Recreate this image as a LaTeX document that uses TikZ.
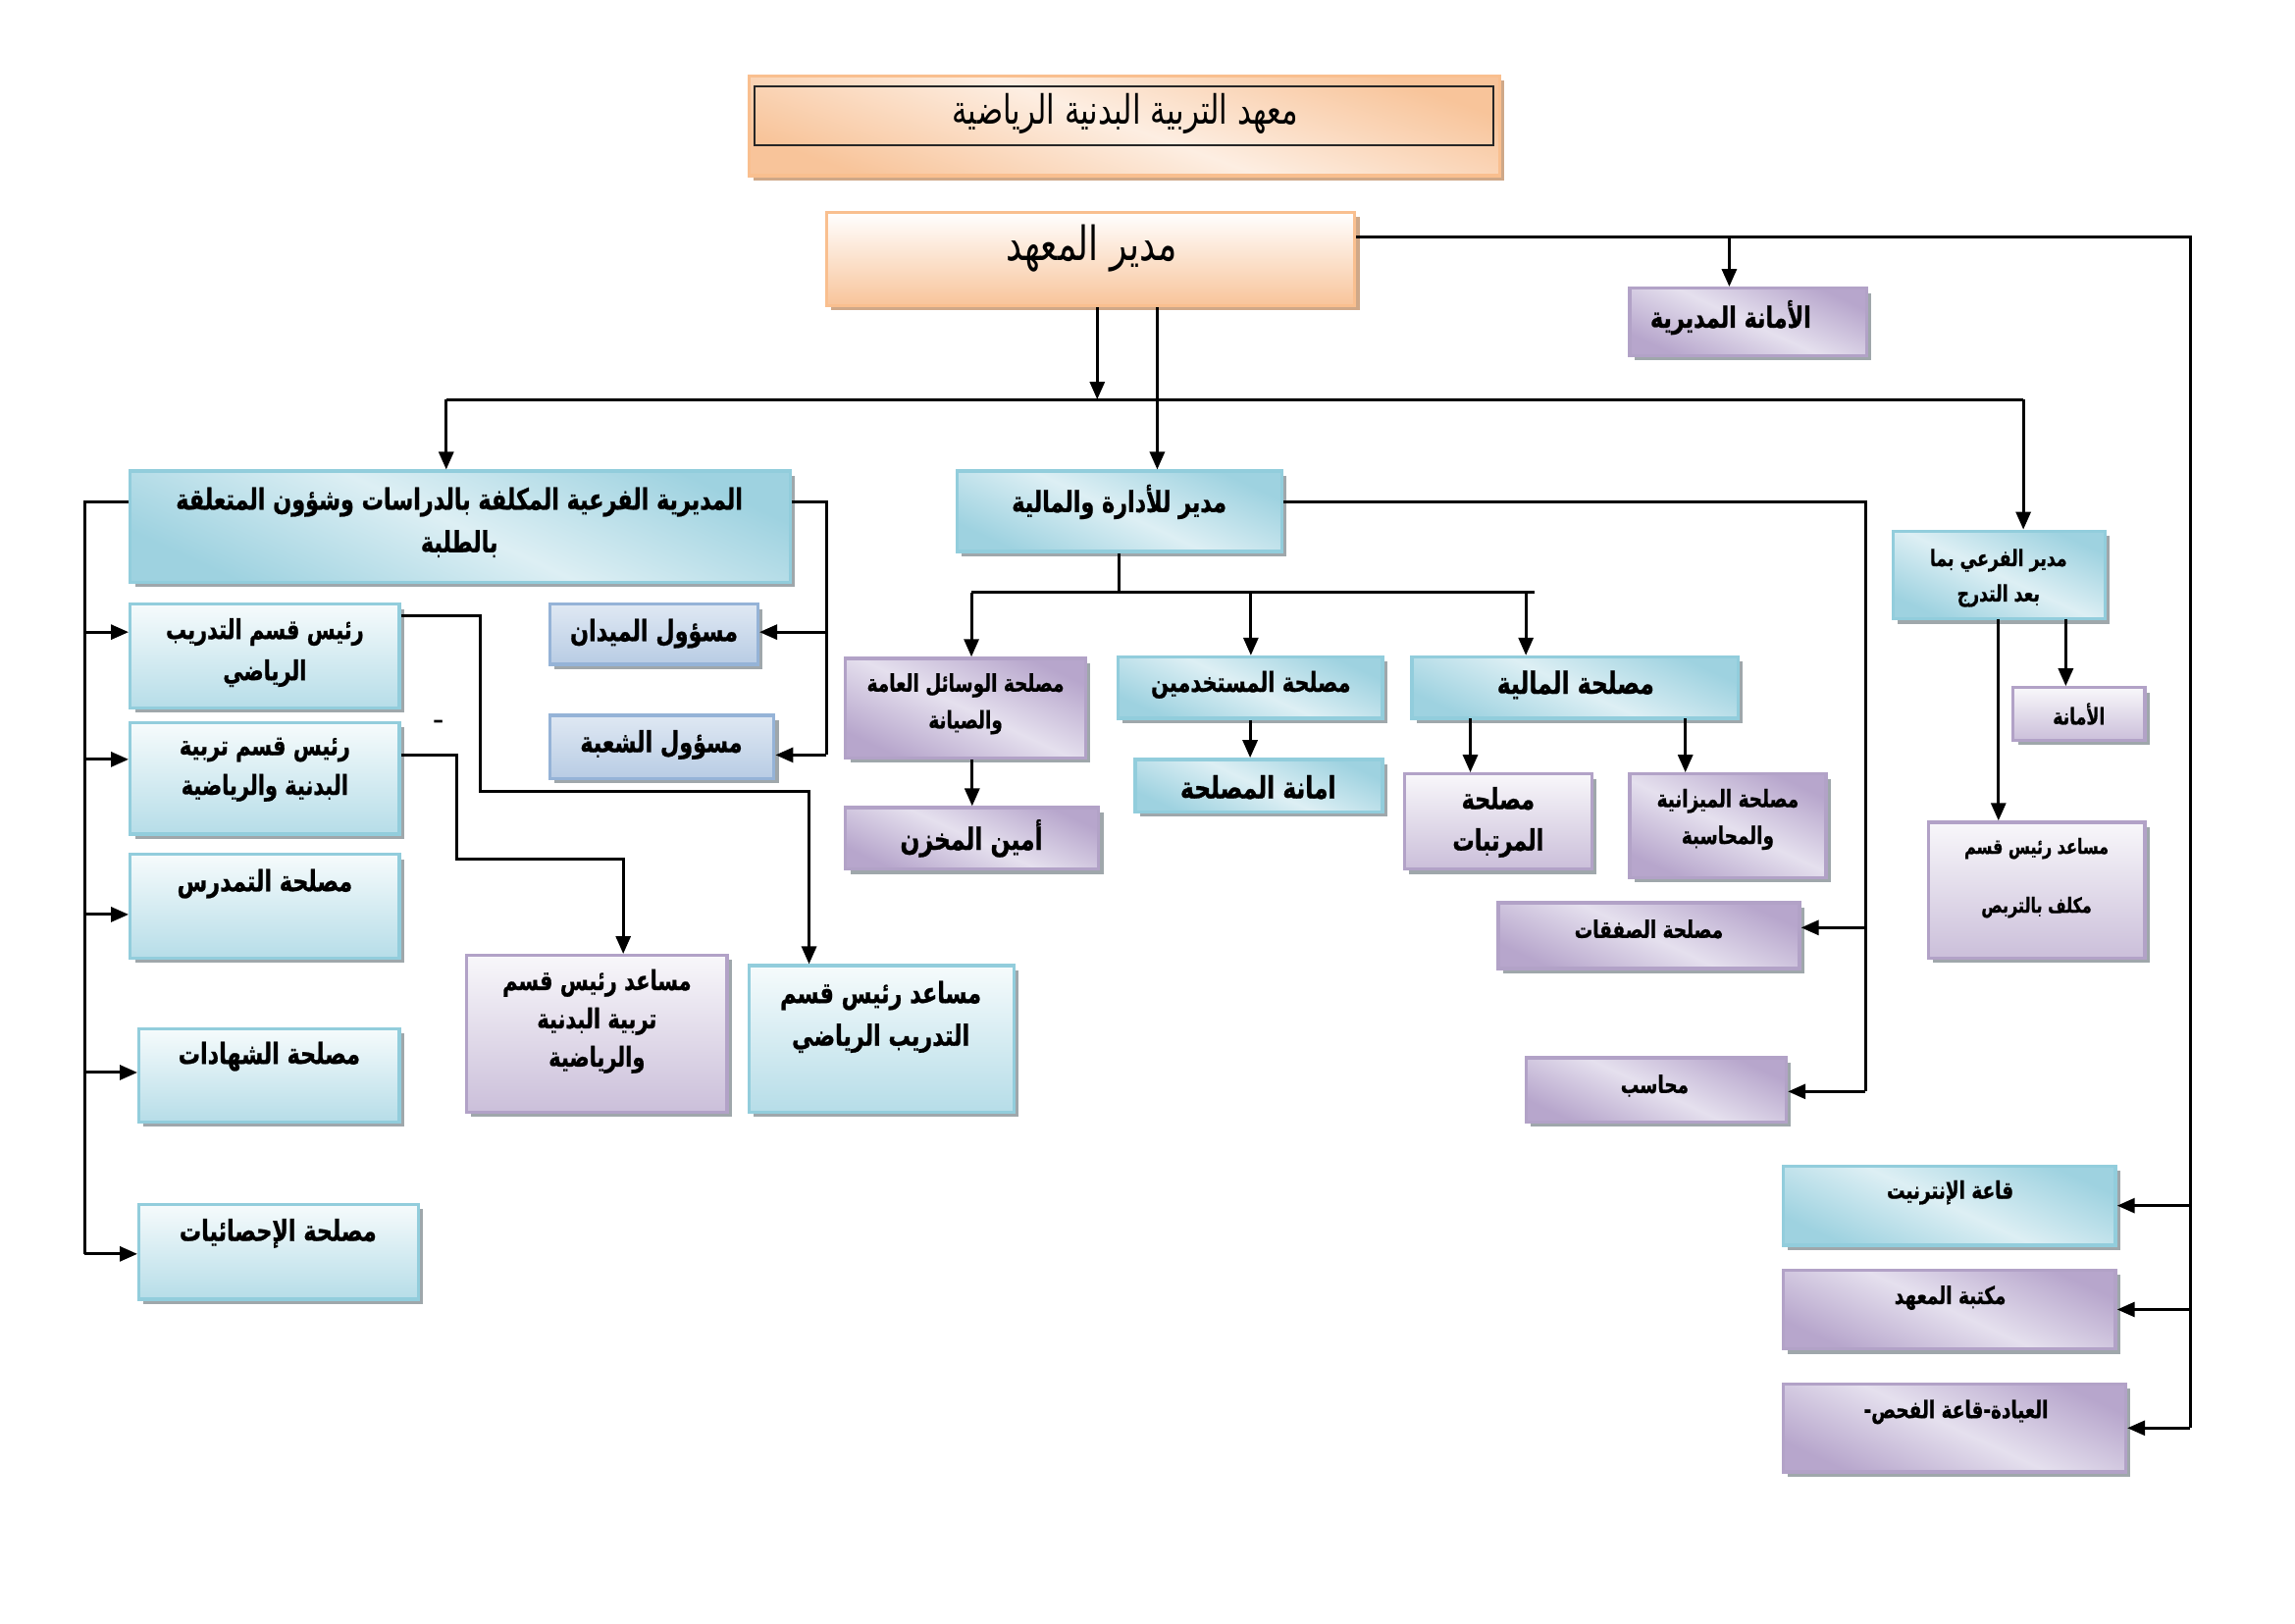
\documentclass[tikz,border=0pt]{standalone}
\usepackage{fontspec}
\usetikzlibrary{arrows.meta,shadows,fit}
\TeXXeTstate=1
\newfontfamily\arabicfont[Script=Arabic, FakeStretch=0.75, BoldFeatures={FakeBold=0.8}]{DejaVu Sans}
\newcommand\ar[1]{\beginR #1\endR}
\definecolor{orBd}{HTML}{F9BF8F}
\definecolor{orD}{HTML}{F8C49A}
\definecolor{orL}{HTML}{FDEEE2}
\definecolor{orShd}{HTML}{CFA888}
\definecolor{blBd}{HTML}{92CDDC}
\definecolor{blD}{HTML}{9ED2E0}
\definecolor{blL}{HTML}{DDEFF4}
\definecolor{blTop}{HTML}{F6FBFC}
\definecolor{blBot}{HTML}{B6DDE8}
\definecolor{puBd}{HTML}{B2A2C7}
\definecolor{puD}{HTML}{B7A6CC}
\definecolor{puL}{HTML}{E5E0EE}
\definecolor{puTop}{HTML}{F8F7FA}
\definecolor{puBot}{HTML}{CBBFDA}
\definecolor{stBd}{HTML}{95B3D7}
\definecolor{stTop}{HTML}{DFE8F3}
\definecolor{stBot}{HTML}{B8CCE4}
\definecolor{shd}{HTML}{9FA7AB}
\tikzset{
  boxbase/.style={line width=1.1pt, inner sep=0pt,
    general shadow={fill=shd, shadow xshift=1.6pt, shadow yshift=-1.6pt}},
  blued/.style={boxbase, draw=blBd, top color=blD, bottom color=blD, middle color=blL, shading angle=-25},
  bluev/.style={boxbase, draw=blBd, top color=blTop, bottom color=blBot},
  purpd/.style={boxbase, draw=puBd, top color=puD, bottom color=puD, middle color=puL, shading angle=-25},
  purpv/.style={boxbase, draw=puBd, top color=puTop, bottom color=puBot},
  steelv/.style={boxbase, draw=stBd, top color=stTop, bottom color=stBot},
  orngd/.style={line width=1.1pt, inner sep=0pt, draw=orBd, top color=orD, bottom color=orD, middle color=orL, shading angle=-20,
    general shadow={fill=orShd, shadow xshift=1.6pt, shadow yshift=-1.6pt}},
  orngv/.style={line width=1.1pt, inner sep=0pt, draw=orBd, top color=white, bottom color=orD,
    general shadow={fill=orShd, shadow xshift=1.6pt, shadow yshift=-1.6pt}},
  tx/.style={align=center, inner sep=0pt, text=black},
  afb/.style 2 args={font=\arabicfont\bfseries\fontsize{#1}{#2}\selectfont},
  afr/.style 2 args={font=\arabicfont\fontsize{#1}{#2}\selectfont},
  ln/.style={draw=black, line width=1pt},
  arr/.style={ln, -{Triangle[length=6pt,width=5pt]}},
}
\begin{document}
\begin{tikzpicture}[x=0.497pt,y=-0.497pt]
\useasboundingbox (0,0) rectangle (1568.7,1109.3);
% ---------- boxes ----------
\node[orngd, fit={(512,52)(1025,120)}] (titlebox) {};
\node[draw=black!85, line width=0.7pt, inner sep=0pt, fit={(516,59)(1021,99)}] (titleframe) {};
\node[orngv, fit={(565,145)(926,209)}] (dir) {};
\node[purpd, fit={(1114,197)(1276,243)}] (sec) {};
\node[blued, fit={(89,322)(540,398)}] (sub1) {};
\node[bluev, fit={(89,413)(273,484)}] (train) {};
\node[bluev, fit={(89,494)(273,570)}] (tarb) {};
\node[bluev, fit={(89,584)(273,655)}] (tamd) {};
\node[bluev, fit={(95,703)(273,767)}] (shah) {};
\node[bluev, fit={(95,823)(286,888)}] (stat) {};
\node[steelv, fit={(376,413)(518,454)}] (field) {};
\node[steelv, fit={(376,489)(529,532)}] (shoba) {};
\node[purpv, fit={(319,653)(497,760)}] (mtarb) {};
\node[bluev, fit={(512,660)(693,760)}] (mtrain) {};
\node[blued, fit={(654,322)(876,377)}] (adm) {};
\node[purpd, fit={(578,450)(742,518)}] (wasail) {};
\node[purpd, fit={(578,552)(751,594)}] (amin) {};
\node[blued, fit={(764,449)(945,491)}] (mustakh) {};
\node[blued, fit={(776,519)(945,555)}] (amanat) {};
\node[blued, fit={(965,449)(1188,491)}] (maliya) {};
\node[purpv, fit={(960,529)(1088,594)}] (murat) {};
\node[purpd, fit={(1114,529)(1248,600)}] (mizan) {};
\node[purpd, fit={(1024,617)(1230,662)}] (safaq) {};
\node[purpd, fit={(1043,723)(1221,767)}] (mohasib) {};
\node[blued, fit={(1294,363)(1439,423)}] (pg) {};
\node[purpv, fit={(1376,470)(1466,506)}] (amana2) {};
\node[purpv, fit={(1318,562)(1466,655)}] (mtarbs) {};
\node[blued, fit={(1219,797)(1446,851)}] (internet) {};
\node[purpd, fit={(1219,868)(1446,922)}] (library) {};
\node[purpd, fit={(1219,946)(1453,1006)}] (clinic) {};
% ---------- texts ----------
\node[tx, afr={13.7}{15}] (titlet) at (769,78) {\ar{معهد التربية البدنية الرياضية}};
\node[tx, afr={16}{18}] (dirt) at (746,170) {\ar{مدير المعهد}};
\node[tx, afb={9.9}{12}] (sect) at (1183,217) {\ar{الأمانة المديرية}};
\node[tx, afb={9.9}{14.5}] (sub1t) at (314,357) {\ar{المديرية الفرعية المكلفة بالدراسات وشؤون المتعلقة}\\\ar{بالطلبة}};
\node[tx, afb={9.3}{14}] (traint) at (181,446) {\ar{رئيس قسم التدريب}\\\ar{الرياضي}};
\node[tx, afb={9.3}{13.5}] (tarbt) at (181,526) {\ar{رئيس قسم تربية}\\\ar{البدنية والرياضية}};
\node[tx, afb={9.9}{12}] (tamdt) at (181,604) {\ar{مصلحة التمدرس}};
\node[tx, afb={9.9}{12}] (shaht) at (184,722) {\ar{مصلحة الشهادات}};
\node[tx, afb={9.9}{12}] (statt) at (190,843) {\ar{مصلحة الإحصائيات}};
\node[tx, afb={9.9}{12}] (fieldt) at (447,433) {\ar{مسؤول الميدان}};
\node[tx, afb={9.9}{12}] (shobat) at (452,509) {\ar{مسؤول الشعبة}};
\node[tx, font=\bfseries\small] (dash) at (300,495) {-};
\node[tx, afb={9.3}{13}] (mtarbt) at (408,698) {\ar{مساعد رئيس قسم}\\\ar{تربية البدنية}\\\ar{والرياضية}};
\node[tx, afb={9.9}{14.5}] (mtraint) at (602,695) {\ar{مساعد رئيس قسم}\\\ar{التدريب الرياضي}};
\node[tx, afb={9.9}{12}] (admt) at (765,343) {\ar{مدير للأدارة والمالية}};
\node[tx, afb={8.2}{12.5}] (wasailt) at (660,481) {\ar{مصلحة الوسائل العامة}\\\ar{والصيانة}};
\node[tx, afb={10.4}{12}] (amint) at (664,573) {\ar{أمين المخزن}};
\node[tx, afb={9.3}{12}] (mustakht) at (855,468) {\ar{مصلحة المستخدمين}};
\node[tx, afb={10.4}{12}] (amanatt) at (860,538) {\ar{امانة المصلحة}};
\node[tx, afb={10.4}{12}] (maliyat) at (1077,468) {\ar{مصلحة المالية}};
\node[tx, afb={9.9}{14}] (muratt) at (1024,562) {\ar{مصلحة}\\\ar{المرتبات}};
\node[tx, afb={8.2}{12.5}] (mizant) at (1181,560) {\ar{مصلحة الميزانية}\\\ar{والمحاسبة}};
\node[tx, afb={8.2}{12}] (safaqt) at (1127,635) {\ar{مصلحة الصفقات}};
\node[tx, afb={8.2}{12}] (mohasibt) at (1131,742) {\ar{محاسب}};
\node[tx, afb={7.7}{12}] (pgt) at (1366,395) {\ar{مدير الفرعي بما}\\\ar{بعد التدرج}};
\node[tx, afb={7.7}{12}] (amana2t) at (1421,488) {\ar{الأمانة}};
\node[tx, afb={7.1}{20}] (mtarbst) at (1392,600) {\ar{مساعد رئيس قسم}\\\ar{مكلف بالتربص}};
\node[tx, afb={8.2}{12}] (internett) at (1333,815) {\ar{قاعة الإنترنيت}};
\node[tx, afb={8.2}{12}] (libraryt) at (1333,887) {\ar{مكتبة المعهد}};
\node[tx, afb={8.2}{12}] (clinict) at (1337,965) {\ar{العيادة-قاعة الفحص-}};
% ---------- connectors ----------
\coordinate (rt) at (1497,162);
\draw[ln] (dir.east |- rt) -- (rt) -- (rt |- clinic.east);
\draw[arr] (rt |- internet.east) -- (internet.east);
\draw[arr] (rt |- library.east) -- (library.east);
\draw[arr] (rt |- clinic.east) -- (clinic.east);
\coordinate (js) at (1182,162);
\draw[arr] (js) -- (js |- sec.north);
\coordinate (bus) at (750,273);
\draw[arr] (dir.south -| bus) -- (bus);
\coordinate (busL) at (305,273);
\coordinate (busR) at (1383,273);
\draw[ln] (busL) -- (busR);
\draw[arr] (busL) -- (busL |- sub1.north);
\draw[arr] (busR) -- (busR |- pg.north);
\coordinate (ad) at (791,300);
\draw[arr] (dir.south -| ad) -- (ad |- adm.north);
% left trunk
\coordinate (L) at (58,343);
\coordinate (l1) at (58,432);
\coordinate (l2) at (58,519);
\coordinate (l3) at (58,625);
\coordinate (l4) at (58,733);
\coordinate (l5) at (58,857);
\draw[ln] (sub1.west |- L) -- (L) -- (l5);
\draw[arr] (l1) -- (l1 -| train.west);
\draw[arr] (l2) -- (l2 -| tarb.west);
\draw[arr] (l3) -- (l3 -| tamd.west);
\draw[arr] (l4) -- (l4 -| shah.west);
\draw[arr] (l5) -- (l5 -| stat.west);
% right of sub1
\coordinate (R) at (565,343);
\coordinate (r1) at (565,432);
\coordinate (r2) at (565,516);
\draw[ln] (sub1.east |- R) -- (R) -- (r2);
\draw[arr] (r1) -- (r1 -| field.east);
\draw[arr] (r2) -- (r2 -| shoba.east);
% train -> mtrain
\coordinate (p1) at (328,421);
\coordinate (p2) at (553,541);
\draw[arr] (train.east |- p1) -- (p1) |- (p2) -- (p2 |- mtrain.north);
% tarb -> mtarb
\coordinate (q1) at (312,516);
\coordinate (q2) at (426,587);
\draw[arr] (tarb.east |- q1) -- (q1) |- (q2) -- (q2 |- mtarb.north);
% adm
\coordinate (h) at (765,405);
\coordinate (hL) at (664,405);
\coordinate (hR) at (1049,405);
\coordinate (hM) at (855,405);
\coordinate (hF) at (1043,405);
\draw[ln] (adm.south) -- (adm.south |- h);
\draw[ln] (hL) -- (hR);
\draw[arr] (hL) -- (hL |- wasail.north);
\draw[arr] (hM) -- (hM |- mustakh.north);
\draw[arr] (hF) -- (hF |- maliya.north);
\coordinate (A) at (1275,343);
\coordinate (a1) at (1275,634);
\coordinate (a2) at (1275,746);
\draw[ln] (adm.east |- A) -- (A) -- (a2);
\draw[arr] (a1) -- (a1 -| safaq.east);
\draw[arr] (a2) -- (a2 -| mohasib.east);
\draw[arr] (wasail.south -| amin.north) -- (amin.north);
\draw[arr] (mustakh.south) -- (mustakh.south |- amanat.north);
\coordinate (m1) at (1005,491);
\coordinate (m2) at (1152,491);
\draw[arr] (m1) -- (m1 |- murat.north);
\draw[arr] (m2) -- (m2 |- mizan.north);
\coordinate (g1) at (1366,423);
\coordinate (g2) at (1412,423);
\draw[arr] (g1) -- (g1 |- mtarbs.north);
\draw[arr] (g2) -- (g2 |- amana2.north);
\end{tikzpicture}
\end{document}
